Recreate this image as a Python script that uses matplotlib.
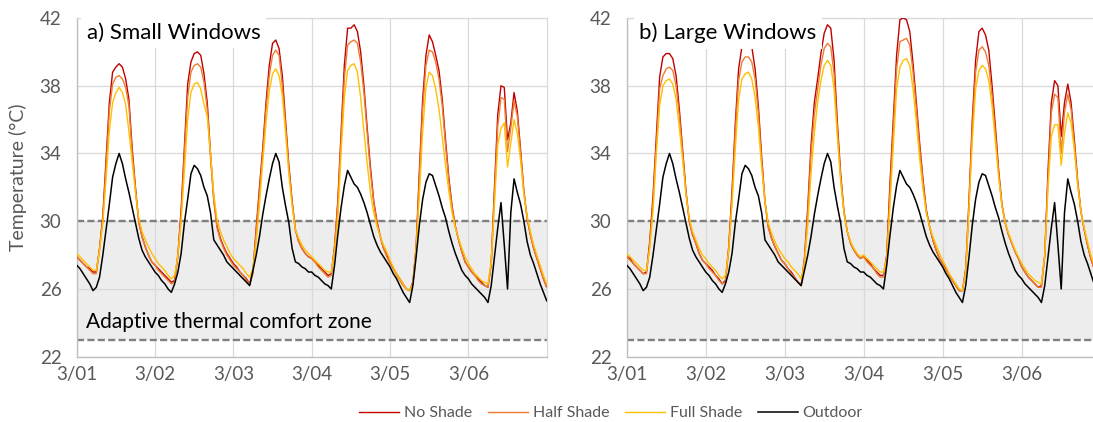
import numpy as np
import matplotlib
matplotlib.use('Agg')
import matplotlib.pyplot as plt

plt.rcParams['font.family'] = ['Lato', 'DejaVu Sans']

################################################################################
# Data: hourly temperatures (degC) from 3/01 00:00 to 3/07 00:00
################################################################################
day_labels = ['3/01', '3/02', '3/03', '3/04', '3/05', '3/06']
series_names = ['No Shade', 'Half Shade', 'Full Shade', 'Outdoor']

outdoor = [27.4, 27.2, 26.9, 26.6, 26.3, 25.9, 26.1, 26.7, 28.0, 29.5, 31.0, 32.6, 33.4, 34.0, 33.4, 32.5, 31.7, 30.8, 29.9, 29.0, 28.3, 27.9, 27.6, 27.3,
           27.0, 26.8, 26.5, 26.3, 26.0, 25.8, 26.3, 27.0, 28.1, 29.9, 31.3, 32.8, 33.3, 33.1, 32.7, 32.0, 31.5, 30.5, 28.9, 28.6, 28.3, 28.0, 27.6, 27.4,
           27.2, 27.0, 26.8, 26.6, 26.4, 26.2, 27.1, 28.0, 29.1, 30.4, 31.5, 32.5, 33.4, 34.0, 33.5, 32.0, 30.9, 29.9, 28.4, 27.6, 27.5, 27.3, 27.2, 27.0,
           27.0, 26.8, 26.7, 26.5, 26.3, 26.2, 26.0, 27.4, 29.2, 30.8, 32.1, 33.0, 32.6, 32.2, 32.0, 31.6, 31.1, 30.5, 29.8, 29.1, 28.6, 28.2, 27.9, 27.6,
           27.3, 26.9, 26.6, 26.2, 25.8, 25.5, 25.2, 26.2, 27.9, 29.8, 31.3, 32.3, 32.8, 32.7, 32.1, 31.5, 30.8, 30.2, 29.4, 28.7, 28.1, 27.6, 27.1, 26.8,
           26.6, 26.3, 26.1, 25.9, 25.7, 25.5, 25.2, 26.2, 27.9, 29.6, 31.1, 28.6, 26.0, 30.5, 32.5, 31.7, 31.0, 30.0, 28.8, 28.0, 27.5, 26.9, 26.3, 25.8, 25.3]

small_no = [27.9, 27.7, 27.5, 27.3, 27.2, 27.0, 27.0, 28.4, 30.3, 33.6, 37.0, 38.8, 39.1, 39.3, 39.1, 38.4, 37.2, 34.3, 32.0, 30.0, 29.1, 28.5, 28.0, 27.6,
            27.4, 27.2, 27.0, 26.8, 26.6, 26.4, 26.5, 28.0, 30.7, 34.4, 38.1, 39.4, 39.9, 40.0, 39.8, 38.7, 37.0, 34.0, 31.3, 29.7, 29.0, 28.5, 28.1, 27.8,
            27.5, 27.3, 27.0, 26.8, 26.6, 26.3, 27.0, 29.6, 32.0, 34.3, 37.0, 39.2, 40.5, 40.7, 40.2, 38.6, 35.9, 33.3, 31.2, 29.5, 28.8, 28.4, 28.1, 27.9,
            27.8, 27.6, 27.4, 27.2, 27.0, 26.8, 26.9, 28.5, 31.2, 35.2, 39.2, 41.4, 41.4, 41.6, 41.2, 40.0, 38.0, 35.5, 33.2, 31.2, 30.0, 29.1, 28.4, 28.0,
            27.6, 27.2, 26.9, 26.6, 26.3, 26.0, 25.9, 26.4, 28.5, 33.0, 37.2, 39.8, 41.0, 40.6, 39.8, 38.9, 37.2, 34.8, 32.6, 30.9, 29.7, 28.9, 28.2, 27.6,
            27.3, 27.0, 26.8, 26.6, 26.4, 26.2, 26.1, 27.5, 32.0, 36.3, 38.0, 37.9, 34.8, 35.8, 37.6, 36.5, 34.2, 31.8, 30.2, 29.2, 28.4, 27.8, 27.2, 26.6, 26.1]

small_half = [27.9, 27.7, 27.5, 27.3, 27.1, 26.9, 26.9, 28.3, 30.1, 33.2, 36.5, 38.1, 38.5, 38.6, 38.4, 37.9, 36.8, 34.0, 31.9, 29.9, 29.1, 28.5, 28.0, 27.6,
              27.4, 27.1, 26.9, 26.7, 26.5, 26.3, 26.4, 27.9, 30.4, 34.0, 37.3, 38.8, 39.2, 39.3, 39.1, 38.2, 36.6, 33.7, 31.2, 29.6, 28.9, 28.4, 28.0, 27.7,
              27.4, 27.2, 27.0, 26.8, 26.5, 26.3, 26.9, 29.4, 31.7, 34.0, 36.6, 38.6, 39.8, 40.1, 39.8, 38.0, 35.6, 33.1, 31.1, 29.5, 28.8, 28.4, 28.1, 27.9,
              27.8, 27.6, 27.3, 27.1, 26.9, 26.7, 26.8, 28.5, 31.0, 34.8, 38.4, 40.4, 40.6, 40.7, 40.5, 39.4, 37.6, 35.2, 32.9, 31.1, 29.9, 29.1, 28.4, 27.9,
              27.5, 27.2, 26.8, 26.5, 26.2, 26.0, 25.9, 26.3, 28.4, 32.6, 36.6, 39.2, 40.1, 40.0, 39.4, 38.4, 36.8, 34.5, 32.4, 30.8, 29.7, 28.9, 28.2, 27.6,
              27.3, 27.0, 26.8, 26.5, 26.3, 26.2, 26.1, 27.4, 31.6, 35.6, 37.3, 37.2, 34.1, 35.5, 37.1, 36.2, 34.0, 31.7, 30.2, 29.2, 28.4, 27.8, 27.2, 26.6, 26.1]

small_full = [28.1, 27.9, 27.7, 27.5, 27.3, 27.1, 27.1, 28.3, 29.9, 32.5, 35.3, 37.0, 37.6, 37.9, 37.6, 36.9, 35.3, 33.5, 31.7, 30.2, 29.4, 28.9, 28.5, 28.1,
              27.8, 27.5, 27.3, 27.1, 26.8, 26.6, 26.8, 28.0, 30.0, 33.0, 36.0, 37.6, 38.1, 38.2, 37.8, 36.9, 36.2, 34.0, 31.6, 30.1, 29.4, 28.9, 28.5, 28.1,
              27.8, 27.6, 27.4, 27.2, 26.9, 26.7, 27.2, 28.8, 31.0, 33.5, 35.8, 37.7, 38.7, 39.0, 38.6, 37.4, 35.2, 32.8, 30.9, 29.5, 29.0, 28.6, 28.3, 28.1,
              27.9, 27.7, 27.5, 27.3, 27.1, 27.0, 27.0, 28.2, 30.1, 34.0, 37.3, 38.9, 39.2, 39.3, 38.8, 37.3, 35.3, 33.4, 31.7, 30.5, 29.7, 29.1, 28.6, 28.2,
              27.7, 27.3, 26.9, 26.6, 26.3, 26.0, 25.9, 26.3, 28.3, 31.6, 35.3, 37.9, 38.8, 38.6, 37.8, 36.6, 35.0, 33.3, 31.8, 30.5, 29.6, 29.0, 28.4, 27.9,
              27.5, 27.2, 26.9, 26.7, 26.5, 26.4, 26.3, 27.6, 31.0, 34.5, 35.5, 35.8, 33.2, 34.6, 36.0, 35.2, 33.6, 31.6, 30.3, 29.4, 28.6, 28.0, 27.4, 26.8, 26.3]

large_no = [27.9, 27.8, 27.5, 27.3, 27.1, 26.9, 27.0, 28.8, 31.5, 35.0, 38.5, 39.7, 39.9, 39.9, 39.6, 38.6, 36.6, 34.2, 31.8, 30.0, 29.2, 28.7, 28.1, 27.7,
            27.5, 27.3, 27.1, 26.8, 26.6, 26.3, 26.5, 28.5, 31.8, 35.8, 39.0, 40.3, 40.6, 40.6, 40.3, 39.0, 36.8, 33.8, 31.2, 29.7, 29.0, 28.5, 28.1, 27.7,
            27.5, 27.2, 27.0, 26.7, 26.4, 26.2, 27.8, 30.8, 34.5, 37.0, 38.4, 39.9, 41.1, 41.6, 41.4, 39.5, 35.8, 32.8, 30.6, 29.4, 28.7, 28.3, 28.0, 27.8,
            27.9, 27.7, 27.5, 27.2, 27.0, 26.8, 26.8, 28.0, 32.3, 36.0, 39.8, 41.9, 42.0, 41.9, 41.2, 39.3, 37.0, 34.6, 32.5, 30.7, 29.7, 28.9, 28.3, 27.8,
            27.5, 27.2, 26.8, 26.5, 26.2, 25.9, 25.9, 27.2, 31.3, 36.0, 39.5, 41.2, 41.4, 41.0, 40.1, 38.0, 35.6, 33.0, 31.0, 29.9, 29.2, 28.7, 28.2, 27.8,
            27.3, 27.0, 26.7, 26.5, 26.3, 26.1, 26.2, 28.0, 33.0, 37.0, 38.3, 38.0, 35.0, 37.0, 38.1, 37.0, 34.8, 32.4, 30.6, 29.5, 28.6, 27.8, 27.2, 26.6, 26.1]

large_half = [27.9, 27.7, 27.5, 27.3, 27.1, 26.9, 26.9, 28.6, 31.1, 34.5, 37.8, 38.6, 39.0, 39.1, 38.9, 38.0, 36.2, 34.0, 31.7, 30.0, 29.2, 28.7, 28.1, 27.7,
              27.5, 27.2, 27.0, 26.8, 26.5, 26.3, 26.4, 28.3, 31.4, 35.3, 38.3, 39.4, 39.7, 39.7, 39.4, 38.4, 36.4, 33.5, 31.1, 29.6, 29.0, 28.5, 28.1, 27.7,
              27.5, 27.2, 26.9, 26.7, 26.4, 26.2, 27.7, 30.5, 34.0, 36.3, 37.8, 39.2, 40.2, 40.5, 40.3, 38.7, 35.4, 32.5, 30.5, 29.4, 28.7, 28.3, 28.0, 27.8,
              27.9, 27.6, 27.4, 27.2, 26.9, 26.7, 26.7, 27.9, 31.8, 35.5, 39.0, 40.6, 40.7, 40.8, 40.4, 38.8, 36.6, 34.3, 32.3, 30.6, 29.7, 28.9, 28.3, 27.8,
              27.5, 27.1, 26.8, 26.5, 26.2, 25.9, 25.9, 27.1, 30.9, 35.5, 38.8, 40.1, 40.3, 40.0, 39.2, 37.4, 35.2, 32.8, 30.9, 29.9, 29.2, 28.7, 28.2, 27.8,
              27.3, 27.0, 26.7, 26.5, 26.3, 26.1, 26.1, 27.9, 32.5, 36.4, 37.5, 37.3, 34.0, 36.4, 37.5, 36.6, 34.5, 32.2, 30.5, 29.5, 28.6, 27.8, 27.2, 26.6, 26.1]

large_full = [28.1, 27.9, 27.7, 27.5, 27.3, 27.1, 27.1, 28.4, 30.6, 34.0, 36.8, 38.0, 38.3, 38.4, 38.1, 37.2, 35.5, 33.6, 31.6, 30.2, 29.4, 28.9, 28.4, 28.0,
              27.8, 27.5, 27.3, 27.1, 26.8, 26.6, 26.8, 28.3, 31.0, 34.3, 37.2, 38.4, 38.7, 38.8, 38.4, 37.3, 35.6, 33.2, 31.2, 29.9, 29.3, 28.8, 28.4, 28.1,
              27.8, 27.6, 27.3, 27.1, 26.9, 26.6, 27.5, 29.8, 32.8, 35.2, 37.0, 38.3, 39.2, 39.5, 39.2, 37.8, 35.0, 32.4, 30.5, 29.4, 28.8, 28.4, 28.1, 27.9,
              28.0, 27.8, 27.6, 27.4, 27.2, 27.0, 27.0, 27.8, 31.0, 34.5, 37.8, 39.1, 39.5, 39.6, 39.2, 37.8, 35.8, 33.7, 31.9, 30.5, 29.7, 29.1, 28.6, 28.1,
              27.7, 27.3, 26.9, 26.6, 26.3, 26.0, 25.9, 27.0, 30.8, 34.8, 37.8, 38.9, 39.2, 39.0, 38.3, 36.8, 34.7, 32.6, 30.9, 29.9, 29.3, 28.8, 28.3, 27.9,
              27.5, 27.2, 26.9, 26.7, 26.5, 26.4, 26.3, 28.0, 32.0, 35.0, 35.7, 35.7, 33.3, 35.2, 36.4, 35.8, 34.2, 32.2, 30.6, 29.6, 28.8, 28.0, 27.4, 26.8, 26.3]

colors = ['#C00000', '#ED7D31', '#FFC000', '#000000']

hours = np.arange(len(outdoor))
days = hours / 24.0

################################################################################
# Figure
################################################################################
fig = plt.figure(figsize=(10.93, 4.22), dpi=100)
ax_a = fig.add_axes([76.7 / 1093, 65.3 / 422, 470 / 1093, 338.7 / 422])
ax_b = fig.add_axes([626.7 / 1093, 65.3 / 422, 474 / 1093, 338.7 / 422])


def draw_panel(ax, no, half, full, title, title_x, zone_text):
    ax.axhspan(23, 30, color='#EDEDED', zorder=0, lw=0)
    ax.axhline(30, color='#7F7F7F', lw=1.7, ls=(0, (3.0, 1.4)), zorder=1)
    ax.axhline(23, color='#7F7F7F', lw=1.7, ls=(0, (3.0, 1.4)), zorder=1)
    lines = []
    for vals, c, lw in zip([no, half, full, outdoor], colors, [1.0, 1.0, 1.0, 1.1]):
        ln, = ax.plot(days, vals, color=c, lw=lw, zorder=3)
        lines.append(ln)
    ax.set_xlim(0, 6)
    ax.set_ylim(22, 42)
    ax.set_yticks([22, 26, 30, 34, 38, 42])
    ax.set_xticks(range(6))
    ax.set_xticklabels(day_labels)
    ax.grid(True, color='#D9D9D9', lw=0.9, zorder=0)
    ax.set_axisbelow(True)
    for s in ['top', 'right']:
        ax.spines[s].set_color('#D9D9D9')
        ax.spines[s].set_linewidth(0.9)
    for s in ['left', 'bottom']:
        ax.spines[s].set_color('#BFBFBF')
        ax.spines[s].set_linewidth(1.0)
    ax.tick_params(axis='both', length=0, labelsize=13.5, colors='#595959')
    ax.tick_params(axis='y', pad=11)
    ax.tick_params(axis='x', pad=7)
    ax.text(title_x, 0.956, title, transform=ax.transAxes, fontsize=16,
            va='center', ha='left', color='#000000', zorder=5,
            bbox=dict(facecolor='white', edgecolor='none', pad=4))
    if zone_text:
        ax.text(0.02, 24.05, 'Adaptive thermal comfort zone', fontsize=15,
                transform=ax.get_yaxis_transform(),
                va='center', ha='left', color='#000000', zorder=4)
    return lines


lines = draw_panel(ax_a, small_no, small_half, small_full, 'a) Small Windows', 0.021, True)
draw_panel(ax_b, large_no, large_half, large_full, 'b) Large Windows', 0.027, False)

ax_a.set_ylabel('Temperature (°C)', fontsize=14, color='#595959')
ax_a.yaxis.set_label_coords(-0.105, 0.53)

fig.legend(lines, series_names, loc='center', bbox_to_anchor=(0.559, 0.021),
           ncol=4, frameon=False, fontsize=11.5, handlelength=2.5,
           handletextpad=0.3, columnspacing=1.0, labelcolor='#595959')

plt.savefig('out.png', dpi=100)
